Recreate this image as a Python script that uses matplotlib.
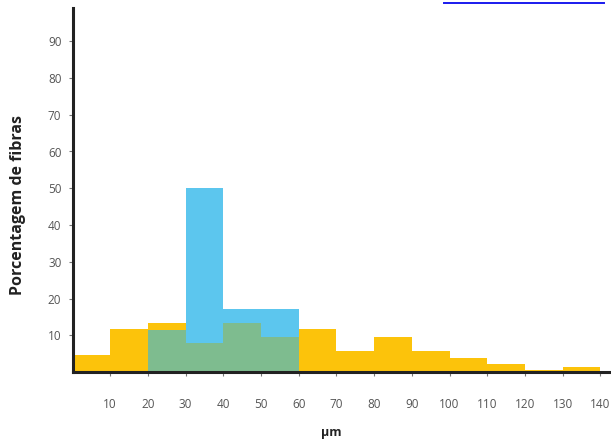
import matplotlib
matplotlib.use("Agg")
import matplotlib.pyplot as plt
from matplotlib.lines import Line2D

# Bin edges (µm) and percentage of fibres per bin
bin_left = [0, 10, 20, 30, 40, 50, 60, 70, 80, 90, 100, 110, 120, 130]
pct_all = [4.5, 11.6, 13.2, 8, 13.2, 9.5, 11.6, 5.7, 9.5, 5.7, 3.7, 2.2, 0.5, 1.4]
bin_left_sub = [20, 30, 40, 50]
pct_sub = [11.4, 50, 17.2, 17.2]

x_ticks = [10, 20, 30, 40, 50, 60, 70, 80, 90, 100, 110, 120, 130, 140]
y_ticks = [10, 20, 30, 40, 50, 60, 70, 80, 90]

yellow = "#FCC30B"
blue = "#5CC6EE"
green = "#7EBC8F"
width = 10

W, H = 611, 440
fig = plt.figure(figsize=(W / 100, H / 100), dpi=100)
ax = fig.add_axes([72.5 / W, 68 / H, (W - 72.5) / W, (372 - 8) / H])

ax.bar(bin_left, pct_all, width=width, align="edge", color=yellow, linewidth=0)
ax.bar(bin_left_sub, pct_sub, width=width, align="edge", color=blue, linewidth=0)
all_map = dict(zip(bin_left, pct_all))
overlap = [min(all_map[b], v) for b, v in zip(bin_left_sub, pct_sub)]
ax.bar(bin_left_sub, overlap, width=width, align="edge", color=green, linewidth=0)

ax.set_xlim(0, (W - 72.5) / 3.77)
ax.set_ylim(0, (372 - 8) / 3.675)
for s in ("top", "right"):
    ax.spines[s].set_visible(False)
for s in ("left", "bottom"):
    ax.spines[s].set_linewidth(2.2)
    ax.spines[s].set_color("#222222")

tick_font = dict(family="Open Sans", size=8.5, color="#555555")
ax.set_xticks(x_ticks)
ax.set_xticklabels([str(t) for t in x_ticks], **tick_font)
ax.set_yticks(y_ticks)
ax.set_yticklabels([str(t) for t in y_ticks], **tick_font)
ax.tick_params(axis="both", direction="out", length=3, width=0.8, color="#777777")
ax.tick_params(axis="x", pad=16)
ax.tick_params(axis="y", pad=5)

fig.text(18 / W, 1 - 205 / H, "Porcentagem de fibras", rotation=90,
         ha="center", va="center", family="Open Sans", weight="bold",
         size=11.5, color="#222222")
fig.text(331 / W, 1 - 432 / H, "µm", ha="center", va="center",
         family="Open Sans", weight="bold", size=9, color="#222222")

# Underline of the link in the page text above the figure
fig.add_artist(Line2D([444 / W, 604 / W], [1 - 3 / H, 1 - 3 / H],
                      transform=fig.transFigure, color="#1A1AEE", lw=1.4))

fig.savefig("out.png", dpi=100)
